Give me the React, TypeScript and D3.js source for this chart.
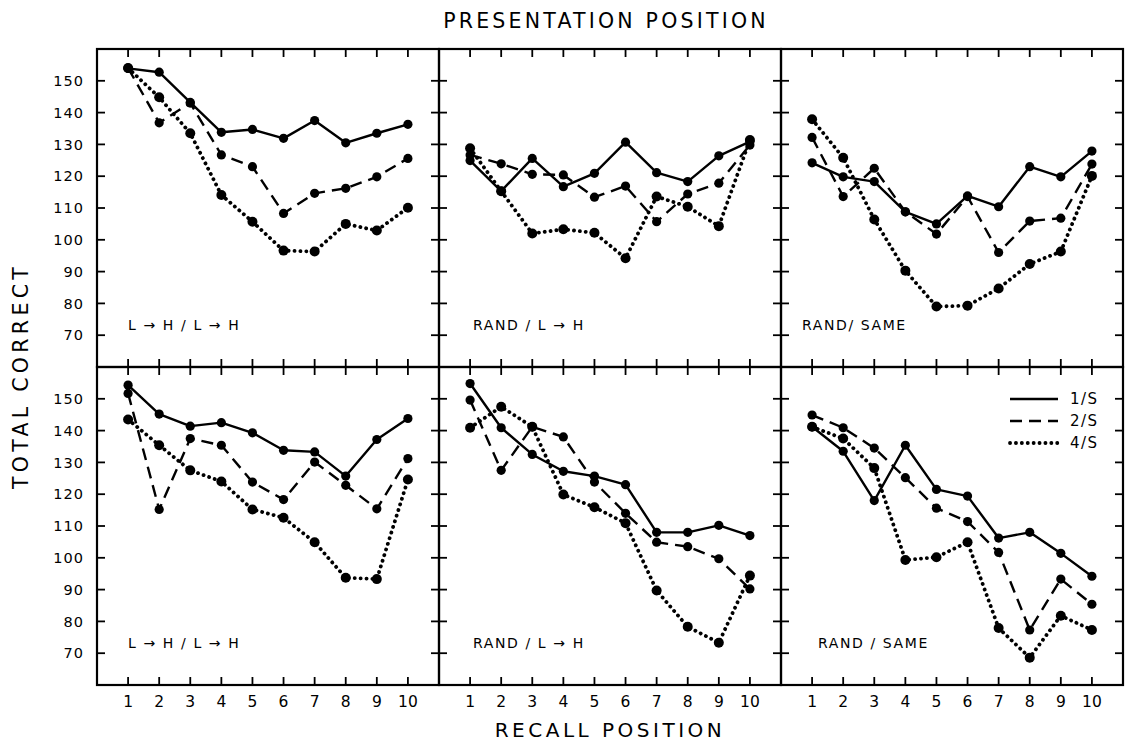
import React from "react";
import * as d3 from "d3";

const positions = [1, 2, 3, 4, 5, 6, 7, 8, 9, 10];
const yTicks = [70, 80, 90, 100, 110, 120, 130, 140, 150];
const xTickLabels = ["1", "2", "3", "4", "5", "6", "7", "8", "9", "10"];
const yTickLabels = ["70", "80", "90", "100", "110", "120", "130", "140", "150"];
const seriesNames = ["1/S", "2/S", "4/S"];
const panelLabels = [
  ["L \u2192 H / L \u2192 H", "RAND / L \u2192 H", "RAND/ SAME"],
  ["L \u2192 H / L \u2192 H", "RAND / L \u2192 H", "RAND / SAME"],
];

// Top row: L->H/L->H
const top1_1 = [153.9, 152.7, 143.2, 133.8, 134.7, 131.9, 137.5, 130.5, 133.5, 136.3];
const top1_2 = [154.0, 136.8, 143.0, 126.7, 123.0, 108.3, 114.6, 116.2, 119.8, 125.6];
const top1_4 = [154.0, 144.8, 133.5, 114.1, 105.7, 96.6, 96.3, 105.0, 102.9, 110.1];
// Top row: RAND/L->H
const top2_1 = [124.9, 115.3, 125.6, 116.7, 120.9, 130.7, 121.1, 118.3, 126.4, 130.9];
const top2_2 = [126.7, 123.9, 120.6, 120.4, 113.4, 116.9, 105.7, 114.4, 117.8, 129.8];
const top2_4 = [128.8, 115.3, 102.0, 103.3, 102.2, 94.2, 113.6, 110.4, 104.3, 131.4];
// Top row: RAND/SAME
const top3_1 = [124.2, 119.8, 118.3, 108.8, 105.0, 113.8, 110.4, 123.0, 119.8, 127.9];
const top3_2 = [132.2, 113.6, 122.5, 108.8, 101.8, 113.6, 96.0, 105.9, 106.8, 123.8];
const top3_4 = [137.9, 125.8, 106.4, 90.3, 79.0, 79.3, 84.7, 92.4, 96.3, 120.1];
// Bottom row: L->H/L->H
const bot1_1 = [154.3, 145.2, 141.4, 142.5, 139.3, 133.8, 133.3, 125.7, 137.2, 143.8];
const bot1_2 = [151.7, 115.2, 137.5, 135.4, 123.8, 118.3, 130.1, 122.8, 115.4, 131.2];
const bot1_4 = [143.5, 135.4, 127.5, 124.0, 115.2, 112.6, 104.9, 93.7, 93.3, 124.6];
// Bottom row: RAND/L->H
const bot2_1 = [154.8, 140.9, 132.5, 127.2, 125.7, 123.0, 108.0, 108.0, 110.2, 107.0];
const bot2_2 = [149.6, 127.5, 141.2, 138.0, 123.8, 114.0, 104.9, 103.5, 99.7, 90.2];
const bot2_4 = [140.9, 147.5, 141.2, 119.9, 115.9, 110.9, 89.7, 78.3, 73.3, 94.4];
// Bottom row: RAND/SAME
const bot3_1 = [141.2, 133.5, 118.0, 135.4, 121.5, 119.4, 106.2, 108.0, 101.4, 94.2];
const bot3_2 = [144.9, 140.9, 134.5, 125.2, 115.6, 111.4, 101.7, 77.3, 93.3, 85.4];
const bot3_4 = [141.2, 137.5, 128.2, 99.3, 100.2, 104.9, 77.9, 68.6, 81.8, 77.3];

const panels = [
  [[top1_1, top1_2, top1_4], [top2_1, top2_2, top2_4], [top3_1, top3_2, top3_4]],
  [[bot1_1, bot1_2, bot1_4], [bot2_1, bot2_2, bot2_4], [bot3_1, bot3_2, bot3_4]],
];

const W = 1126;
const H = 744;
const colX = [97, 439, 781];
const panelW = 342;
const rowY = [49, 367];
const panelH = 318;
const tickLen = 8;
const FONT = "'DejaVu Sans', 'Liberation Sans', sans-serif";
const labelOffsets = [
  [31, 34, 21],
  [31, 34, 37],
];

const styles = [
  { dash: null as string | null, width: 2.4, cap: "butt", r: 4.6 },
  { dash: "12 7", width: 2.4, cap: "butt", r: 4.6 },
  { dash: "0.1 5.8", width: 3.8, cap: "round", r: 5 },
];

function Panel({ row, col }: { row: number; col: number }) {
  const x0 = colX[col];
  const y0 = rowY[row];
  const x = d3.scaleLinear().domain([0, 11]).range([x0, x0 + panelW]);
  const y = d3.scaleLinear().domain([60, 160]).range([y0 + panelH, y0]);
  const line = d3
    .line<number>()
    .x((_, i) => x(positions[i]))
    .y((d) => y(d));
  const series = panels[row][col];
  return (
    <g>
      <rect x={x0} y={y0} width={panelW} height={panelH} fill="none" stroke="#000" strokeWidth={2.2} />
      {yTicks.map((t) => (
        <g key={"y" + t}>
          <line x1={x0} x2={x0 + tickLen} y1={y(t)} y2={y(t)} stroke="#000" strokeWidth={1.8} />
          <line x1={x0 + panelW} x2={x0 + panelW - tickLen} y1={y(t)} y2={y(t)} stroke="#000" strokeWidth={1.8} />
        </g>
      ))}
      {positions.map((p) => (
        <g key={"x" + p}>
          <line x1={x(p)} x2={x(p)} y1={y0} y2={y0 + tickLen} stroke="#000" strokeWidth={1.8} />
          <line x1={x(p)} x2={x(p)} y1={y0 + panelH} y2={y0 + panelH - tickLen} stroke="#000" strokeWidth={1.8} />
        </g>
      ))}
      {series.map((vals, si) => (
        <g key={"s" + si}>
          <path
            d={line(vals) || ""}
            fill="none"
            stroke="#000"
            strokeWidth={styles[si].width}
            strokeDasharray={styles[si].dash || undefined}
            strokeLinecap={styles[si].cap as any}
            strokeLinejoin="round"
          />
          {vals.map((v, i) => (
            <circle key={i} cx={x(positions[i])} cy={y(v)} r={styles[si].r} fill="#000" />
          ))}
        </g>
      ))}
      <text
        x={x0 + labelOffsets[row][col]}
        y={y(71.7)}
        fontFamily={FONT}
        fontSize={14}
        letterSpacing={1.6}
        fill="#000"
      >
        {panelLabels[row][col]}
      </text>
    </g>
  );
}

export default function App() {
  const legendX0 = 1010;
  const legendX1 = 1058;
  const legendYs = [399, 421, 443];
  const xb = d3.scaleLinear().domain([0, 11]).range([0, panelW]);
  const yl = d3.scaleLinear().domain([60, 160]);
  return (
    <svg width={W} height={H} style={{ position: "absolute", left: 0, top: 0, background: "#fff" }}>
      <rect x={0} y={0} width={W} height={H} fill="#fff" />
      <text x={606} y={28} textAnchor="middle" fontFamily={FONT} fontSize={20.5} letterSpacing={3.2} fill="#000">
        PRESENTATION  POSITION
      </text>
      <text
        transform={`translate(28,376) rotate(-90)`}
        textAnchor="middle"
        fontFamily={FONT}
        fontSize={20.5}
        letterSpacing={4.3}
        fill="#000"
      >
        TOTAL  CORRECT
      </text>
      <text x={610} y={737} textAnchor="middle" fontFamily={FONT} fontSize={20} letterSpacing={3.5} fill="#000">
        RECALL  POSITION
      </text>
      {[0, 1].map((row) =>
        [0, 1, 2].map((col) => <Panel key={row + "-" + col} row={row} col={col} />)
      )}
      {[0, 1].map((row) => {
        yl.range([rowY[row] + panelH, rowY[row]]);
        return yTicks.map((t, i) => (
          <text
            key={row + "yl" + t}
            x={84}
            y={yl(t)}
            dy="0.36em"
            textAnchor="end"
            fontFamily={FONT}
            fontSize={14.5}
            letterSpacing={1}
            fill="#000"
          >
            {yTickLabels[i]}
          </text>
        ));
      })}
      {colX.map((cx) =>
        positions.map((p, i) => (
          <text
            key={cx + "xl" + p}
            x={cx + xb(p)}
            y={707}
            textAnchor="middle"
            fontFamily={FONT}
            fontSize={15.5}
            fill="#000"
          >
            {xTickLabels[i]}
          </text>
        ))
      )}
      {seriesNames.map((name, i) => (
        <g key={"lg" + i}>
          <line
            x1={legendX0}
            x2={legendX1}
            y1={legendYs[i]}
            y2={legendYs[i]}
            stroke="#000"
            strokeWidth={styles[i].width}
            strokeDasharray={styles[i].dash || undefined}
            strokeLinecap={styles[i].cap as any}
          />
          <text x={1070} y={legendYs[i]} dy="0.36em" fontFamily={FONT} fontSize={15} letterSpacing={1.5} fill="#000">
            {name}
          </text>
        </g>
      ))}
    </svg>
  );
}
